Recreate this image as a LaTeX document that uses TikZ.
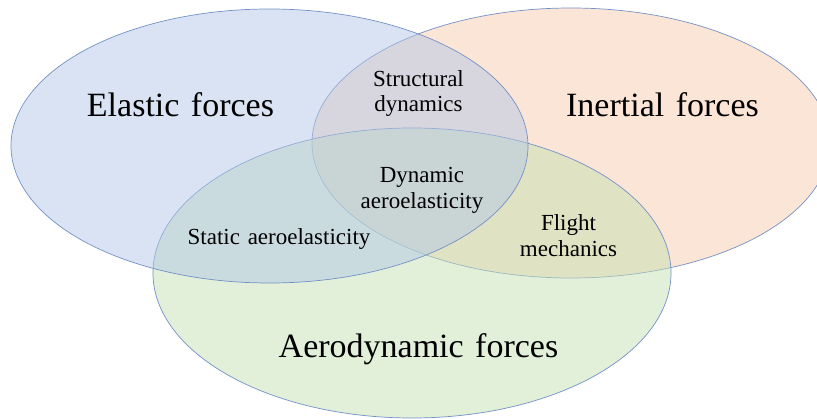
\documentclass[tikz,border=0pt]{standalone}
\usepackage{fontspec}
\setmainfont[WordSpace=1.35]{Liberation Serif}
\usepackage{tikz}
\usetikzlibrary{shapes,positioning,calc}
\usepackage{xcolor}
\definecolor{elasticfill}{HTML}{B4C7E7}
\definecolor{inertialfill}{HTML}{F8CBAD}
\definecolor{aerofill}{HTML}{C5E0B4}
\definecolor{setline}{HTML}{7391C8}

\begin{document}
\begin{tikzpicture}[x=1pt,y=1pt,
    setoval/.style={draw=setline, line width=0.7pt, fill opacity=0.5},
    biglabel/.style={anchor=base, inner sep=0pt, font=\fontsize{34}{40}\selectfont},
    smalllabel/.style={align=center, inner sep=0pt, font=\fontsize{23}{25.5}\selectfont}]
    \useasboundingbox (0,0) rectangle (817,418);

    % Sets
    \filldraw[setoval, fill=inertialfill] (571,275) ellipse [x radius=259, y radius=135];
    \filldraw[setoval, fill=aerofill] (412,145) ellipse [x radius=259, y radius=145];
    \filldraw[setoval, fill=elasticfill] (269.5,272) ellipse [x radius=258.5, y radius=137];

    % Set names
    \node[biglabel] (elastic) at (180.5,301.3) {Elastic forces};
    \node[biglabel] (inertial) at (662.5,301.3) {Inertial forces};
    \node[biglabel] (aero) at (418.5,60) {Aerodynamic forces};

    % Overlaps
    \node[smalllabel] (structdyn) at (418.5,324.5) {Structural\\dynamics};
    \node[smalllabel] (dynaero) at (422,227.5) {Dynamic\\aeroelasticity};
    \node[smalllabel, anchor=base] (staticaero) at (279,173) {Static aeroelasticity};
    \node[smalllabel] (flight) at (568.5,182.5) {Flight\\mechanics};
\end{tikzpicture}
\end{document}
